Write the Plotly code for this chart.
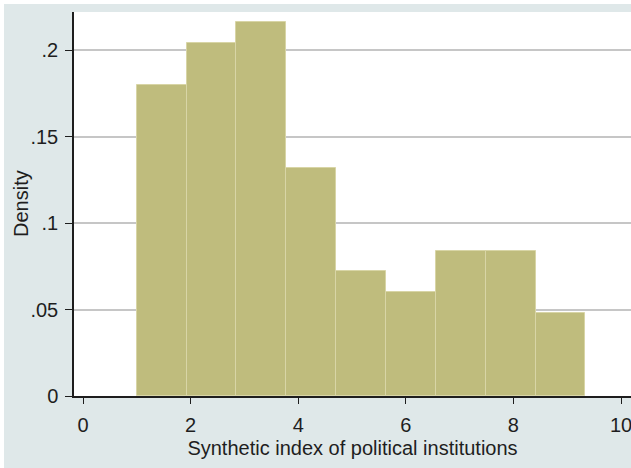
import plotly.graph_objects as go

# Histogram of the synthetic index (density scale), 9 equal-width bins
bin_edges = [1.0, 1.927, 2.853, 3.78, 4.707, 5.633, 6.56, 7.487, 8.413, 9.34]
density = [0.180, 0.204, 0.216, 0.132, 0.072, 0.060, 0.084, 0.084, 0.048]

x_ticks = [0, 2, 4, 6, 8, 10]
y_ticks = [0, 0.05, 0.1, 0.15, 0.2]
y_tick_text = ["0", ".05", ".1", ".15", ".2"]

centers = [(a + b) / 2 for a, b in zip(bin_edges[:-1], bin_edges[1:])]
widths = [b - a for a, b in zip(bin_edges[:-1], bin_edges[1:])]

W, H = 631, 468
L, T, R, B = 74, 12, 631, 396  # plot area in pixels
pw, ph = R - L, B - T

def px_x(p):
    return (p - L) / pw

def px_y(p):
    return (B - p) / ph

font = "Liberation Sans, Arial, sans-serif"
ink = "#1e1e1e"
fs = 20

fig = go.Figure(
    go.Bar(
        x=centers,
        y=density,
        width=widths,
        marker=dict(color="#BFBC7D", line=dict(color="#D8D5A6", width=1)),
        hoverinfo="x+y",
    )
)

fig.update_layout(
    width=W,
    height=H,
    margin=dict(l=L, r=W - R, t=T, b=H - B),
    paper_bgcolor="#DFE8E9",
    plot_bgcolor="white",
    showlegend=False,
    bargap=0,
    font=dict(family=font, size=fs, color=ink),
    shapes=[
        # white edge strips at top and left of the canvas
        dict(type="rect", xref="paper", yref="paper",
             x0=px_x(0), x1=px_x(4), y0=px_y(H), y1=px_y(0),
             fillcolor="white", line=dict(width=0), layer="above"),
        dict(type="rect", xref="paper", yref="paper",
             x0=px_x(0), x1=px_x(W), y0=px_y(4), y1=px_y(0),
             fillcolor="white", line=dict(width=0), layer="above"),
    ],
    annotations=[
        dict(text="Density", textangle=-90, showarrow=False,
             xref="paper", yref="paper", x=px_x(21), y=px_y(204),
             xanchor="center", yanchor="middle", font=dict(size=fs)),
    ],
)

fig.update_xaxes(
    range=[(L - 83) / 53.8, (R - 83) / 53.8],
    tickvals=x_ticks,
    ticktext=[str(v) for v in x_ticks],
    ticks="outside",
    ticklen=6,
    tickwidth=1.3,
    tickcolor=ink,
    ticklabelstandoff=4,
    ticklabeloverflow="allow",
    showgrid=False,
    zeroline=False,
    showline=True,
    linecolor=ink,
    linewidth=1.5,
    title=dict(text="Synthetic index of political institutions",
               font=dict(size=fs), standoff=6),
    tickfont=dict(size=fs),
)

fig.update_yaxes(
    range=[0, (B - T) / 1730],
    tickvals=y_ticks,
    ticktext=y_tick_text,
    ticks="outside",
    ticklen=7,
    tickwidth=1.3,
    tickcolor=ink,
    ticklabelstandoff=3,
    showgrid=True,
    gridcolor="#C6C6C6",
    gridwidth=1.5,
    zeroline=False,
    showline=True,
    linecolor=ink,
    linewidth=1.5,
    tickfont=dict(size=fs),
)

fig.write_html("out.html")
